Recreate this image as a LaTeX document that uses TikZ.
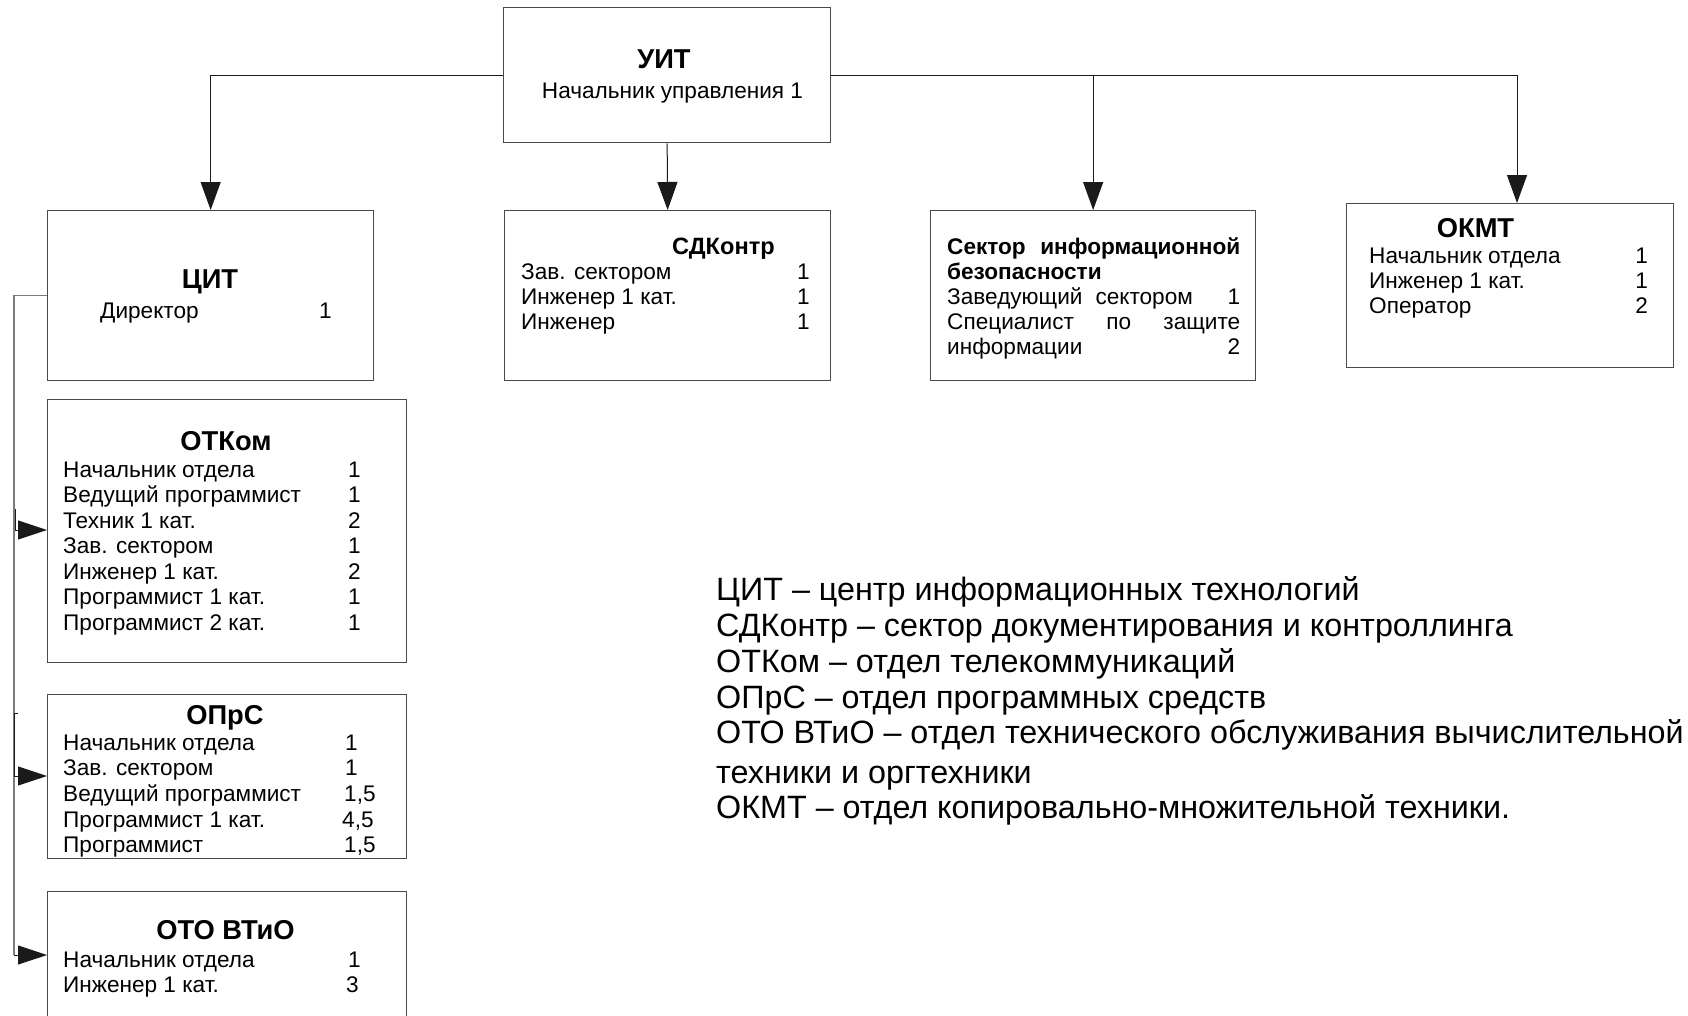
\documentclass[tikz,border=0pt]{standalone}
\usepackage{fontspec}
\setmainfont{Liberation Sans}
\usetikzlibrary{arrows.meta,calc}
\definecolor{boxcol}{HTML}{4A4A4A}
\definecolor{linecol}{HTML}{1A1A1A}
\definecolor{sidecol}{HTML}{7A7A7A}
\begin{document}
\begin{tikzpicture}[x=1pt,y=-1pt,
  box/.style={draw=boxcol, line width=1.3pt, inner sep=0pt, anchor=north west},
  conn/.style={draw=linecol, line width=1pt},
  arr/.style={conn, -{Triangle[length=28pt,width=20pt]}},
  larr/.style={conn, -{Triangle[length=29pt,width=19pt]}},
  sideline/.style={draw=sidecol, line width=1.2pt},
  rowtxt/.style={inner sep=0pt, anchor=base west, font=\fontsize{22.6}{26}\selectfont},
  rownum/.style={inner sep=0pt, anchor=base east, font=\fontsize{22.6}{26}\selectfont},
  rownuml/.style={inner sep=0pt, anchor=base west, font=\fontsize{22.6}{26}\selectfont},
  ttl/.style={inner sep=0pt, anchor=base, font=\fontsize{27.3}{30}\selectfont\bfseries},
  sttl/.style={inner sep=0pt, anchor=base west, font=\fontsize{23.6}{26}\selectfont\bfseries},
  legend/.style={inner sep=0pt, anchor=base west, font=\fontsize{32.3}{36}\selectfont}
]
\useasboundingbox (0,0) rectangle (1688,1015);
\clip (0,0) rectangle (1688,1015);
\fill[white] (0,0) rectangle (1688,1015);

% boxes
\node[box, minimum width=327pt, minimum height=135pt] (uit) at (503,7) {};
\node[box, minimum width=326pt, minimum height=170pt] (cit) at (47,210) {};
\node[box, minimum width=326pt, minimum height=170pt] (sdk) at (504,210) {};
\node[box, minimum width=325pt, minimum height=170pt] (sib) at (930,210) {};
\node[box, minimum width=327pt, minimum height=164pt] (okmt) at (1346,203) {};
\node[box, minimum width=359pt, minimum height=263pt] (otkom) at (47,399) {};
\node[box, minimum width=359pt, minimum height=164pt] (oprs) at (47,694) {};
\node[box, minimum width=359pt, minimum height=160pt] (oto) at (47,891) {};

% top connectors
\draw[arr] (uit.west) -| (cit.north);
\draw[arr] (uit.south) -- (sdk.north);
\draw[arr] (uit.east) -| (sib.north);
\coordinate (okmtin) at ($(okmt.north west)+(171,0)$);
\draw[arr] (uit.east) -| (okmtin);

% left connectors
\coordinate (otkin) at ($(otkom.north west)+(0,131)$);
\coordinate (oprin) at ($(oprs.north west)+(0,82)$);
\coordinate (otoin) at ($(oto.north west)+(0,64)$);
\coordinate (lx) at ($(cit.west)+(-33,0)$);
\draw[sideline] (cit.west) -- (lx) -- (lx |- otoin);
\draw[larr] (lx |- otoin) -- (otoin);
\draw[larr] ($(otkin)+(-31,0)$) -- (otkin);
\draw[larr] (lx |- oprin) -- (oprin);
\coordinate (tick) at ($(oprs.north west)+(-33,19)$);
\draw[conn] (tick) -- ++(4,0);
\draw[conn] (tick) -- (lx |- oprin);
\draw[conn] ($(otkin)+(-31.5,-21)$) -- ($(otkin)+(-31.5,1)$);

% UIT
\node[ttl] (uitt) at (664,68) {УИТ};
\node[inner sep=0pt, anchor=base, font=\fontsize{22.6}{26}\selectfont] (uits) at (672.5,98) {Начальник управления 1};

% CIT
\node[ttl] (citt) at (210,288) {ЦИТ};
\node[rowtxt] (citr) at (100,318) {Директор};
\node[rownum] (citn) at (332,318) {1};

% SDK
\node[sttl] (sdkt) at (672,254) {СДКонтр};
\foreach \t/\n [count=\i] in {Зав. сектором/1, Инженер 1 кат./1, Инженер/1}{
  \node[rowtxt] (sdkr\i) at (521,{279+25*(\i-1)}) {\t};
  \node[rownum] (sdkn\i) at (810,{279+25*(\i-1)}) {\n};
}

% SIB
\node[sttl, font=\fontsize{22.6}{26}\selectfont\bfseries] (sib1) at (947,254) {\makebox[293pt][l]{Сектор\hfill информационной}};
\node[sttl, font=\fontsize{22.6}{26}\selectfont\bfseries] (sib2) at (947,279) {безопасности};
\node[rowtxt] (sib3) at (947,304) {\makebox[293pt][l]{Заведующий\hspace{13pt}сектором\hfill 1}};
\node[rowtxt] (sib4) at (947,329) {\makebox[293pt][l]{Специалист\hfill по\hfill защите}};
\node[rowtxt] (sib5) at (947,354) {\makebox[293pt][l]{информации\hfill 2}};

% OKMT
\node[ttl] (okmtt) at (1475.5,237) {ОКМТ};
\foreach \t/\n [count=\i] in {Начальник отдела/1, Инженер 1 кат./1, Оператор/2}{
  \node[rowtxt] (okr\i) at (1369,{263+25.3*(\i-1)}) {\t};
  \node[rownum] (okn\i) at (1648,{263+25.3*(\i-1)}) {\n};
}

% OTKom
\node[ttl] (otkt) at (226,450) {ОТКом};
\foreach \t/\n [count=\i] in {Начальник отдела/1, Ведущий программист/1, Техник 1 кат./2, Зав. сектором/1, Инженер 1 кат./2, Программист 1 кат./1, Программист 2 кат./1}{
  \node[rowtxt] (otr\i) at (63,{477+25.5*(\i-1)}) {\t};
  \node[rownum] (otn\i) at (361,{477+25.5*(\i-1)}) {\n};
}

% OPrS
\node[ttl] (oprt) at (225,724) {ОПрС};
\node[rowtxt] (opr1) at (63,750) {Начальник отдела};
\node[rownuml] (opn1) at (345,750) {1};
\node[rowtxt] (opr2) at (63,775.7) {Зав. сектором};
\node[rownuml] (opn2) at (345,775.7) {1};
\node[rowtxt] (opr3) at (63,801.4) {Ведущий программист};
\node[rownuml] (opn3) at (344,801.4) {1,5};
\node[rowtxt] (opr4) at (63,827.1) {Программист 1 кат.};
\node[rownuml] (opn4) at (342,827.1) {4,5};
\node[rowtxt] (opr5) at (63,852.8) {Программист};
\node[rownuml] (opn5) at (344,852.8) {1,5};

% OTO VTiO
\node[ttl] (otot) at (225.5,939) {ОТО ВТиО};
\node[rowtxt] (otor1) at (63,967) {Начальник отдела};
\node[rownum] (oton1) at (361,967) {1};
\node[rowtxt] (otor2) at (63,992) {Инженер 1 кат.};
\node[rownum] (oton2) at (359,992) {3};

% legend
\node[legend] (lg1) at (716,600.6) {ЦИТ – центр информационных технологий};
\node[legend] (lg2) at (716,636.6) {СДКонтр – сектор документирования и контроллинга};
\node[legend] (lg3) at (716,672.6) {ОТКом – отдел телекоммуникаций};
\node[legend] (lg4) at (716,708.6) {ОПрС – отдел программных средств};
\node[legend] (lg5) at (716,743.6) {ОТО ВТиО – отдел технического обслуживания вычислительной};
\node[legend] (lg6) at (716,783.6) {техники и оргтехники};
\node[legend] (lg7) at (716,818.6) {ОКМТ – отдел копировально-множительной техники.};
\end{tikzpicture}
\end{document}
